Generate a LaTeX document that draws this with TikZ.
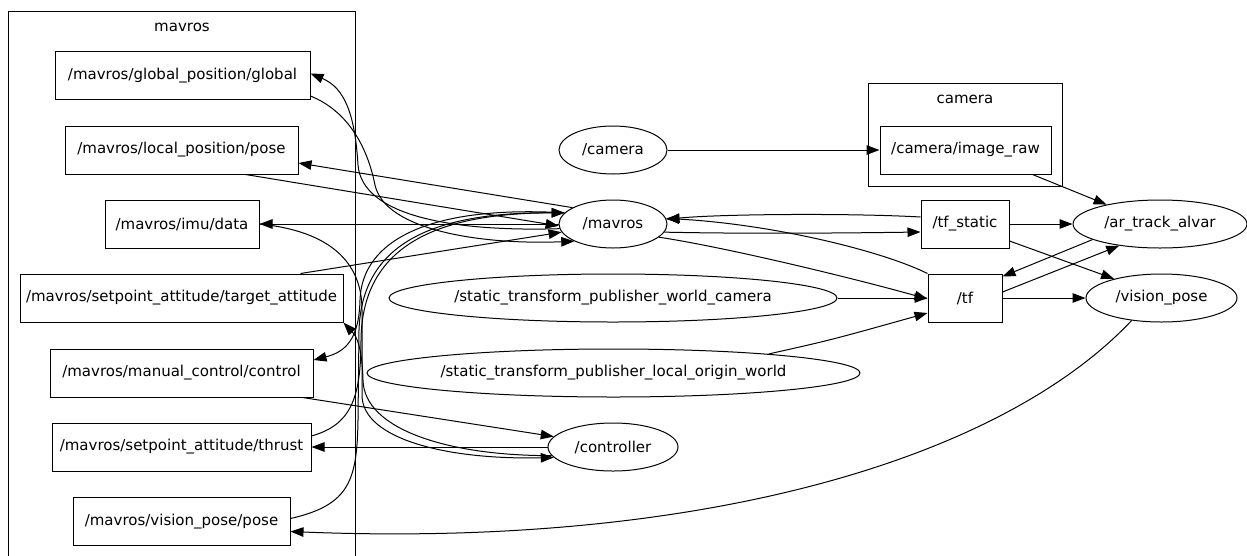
\documentclass[tikz,border=0pt]{standalone}
\usepackage{fontspec}
\setmainfont{DejaVu Sans}
\usetikzlibrary{arrows.meta,shapes.geometric}
% label of fixed size, so the ellipse keeps the width we give it
\newcommand{\nlbl}[1]{\makebox[0pt]{#1}}
\tikzset{
  topic/.style={rectangle, draw=black, line width=1pt, minimum height=48pt, inner sep=0pt,
                font=\fontsize{15}{18}\selectfont},
  rosnode/.style={ellipse, draw=black, line width=1pt, minimum height=48pt, inner sep=0pt,
                  font=\fontsize{15}{18}\selectfont},
  grp/.style={rectangle, draw=black, line width=1pt, inner sep=0pt, anchor=north west},
  grplbl/.style={font=\fontsize{15}{18}\selectfont},
  flow/.style={-{Triangle[length=13pt,width=9.5pt]}, draw=black, line width=1pt},
}

\begin{document}
\begin{tikzpicture}[x=1pt, y=-1pt]
\useasboundingbox (0,0) rectangle (1247,555);

% mavros namespace
\node[grp, minimum width=347pt, minimum height=560pt] (mavrosgrp) at (8,11) {};
\node[grplbl] (mavroslbl) at (182,27) {mavros};
\node[topic, minimum width=255pt] (glob) at (182.5,75.5) {/mavros/global\_position/global};
\node[topic, minimum width=233pt] (locpose) at (181.5,150) {/mavros/local\_position/pose};
\node[topic, minimum width=154pt] (imu) at (182,224) {/mavros/imu/data};
\node[topic, minimum width=323pt] (attitude) at (181.5,298) {/mavros/setpoint\_attitude/target\_attitude};
\node[topic, minimum width=263pt] (manual) at (181.5,373) {/mavros/manual\_control/control};
\node[topic, minimum width=259pt] (thrust) at (181.5,447) {/mavros/setpoint\_attitude/thrust};
\node[topic, minimum width=217pt] (vpose) at (181.5,521.5) {/mavros/vision\_pose/pose};

% camera namespace
\node[grp, minimum width=194pt, minimum height=103pt] (cameragrp) at (868,83) {};
\node[grplbl] (cameralbl) at (965,99) {camera};
\node[topic, minimum width=171pt] (imgraw) at (965.5,150) {/camera/image\_raw};

% tf topics
\node[topic, minimum width=88pt] (tfstatic) at (965,224) {/tf\_static};
\node[topic, minimum width=74pt] (tf) at (965,298) {/tf};

% ros nodes
\node[rosnode, minimum width=108pt] (camera) at (613,150) {\nlbl{/camera}};
\node[rosnode, minimum width=108pt] (mavros) at (613,224) {\nlbl{/mavros}};
\node[rosnode, minimum width=448pt] (worldcam) at (613,298) {\nlbl{/static\_transform\_publisher\_world\_camera}};
\node[rosnode, minimum width=493pt] (localorigin) at (613.5,373) {\nlbl{/static\_transform\_publisher\_local\_origin\_world}};
\node[rosnode, minimum width=130pt] (controller) at (613,447) {\nlbl{/controller}};
\node[rosnode, minimum width=174pt] (artrack) at (1160,224) {\nlbl{/ar\_track\_alvar}};
\node[rosnode, minimum width=151pt] (vispose) at (1161.5,298) {\nlbl{/vision\_pose}};

% camera and tracker
\draw[flow] (camera.east) -- (imgraw.west);
\draw[flow] ([xshift=-19pt]imgraw.south east) -- (artrack.160);
\draw[flow] (tfstatic.east) -- (artrack.west);
\draw[flow] ([yshift=-17pt]tfstatic.east) -- (vispose.158);
\draw[flow] (artrack.193) -- ([yshift=-3pt]tf.north east);
\draw[flow] ([yshift=6pt]tf.east) -- (artrack.208);
\draw[flow] (tf.east) -- (vispose.west);
\draw[flow] (vispose.217) .. controls (1000,460) and (700,548) .. ([yshift=-10pt]vpose.east);

% transforms
\draw[flow] (worldcam.east) -- (tf.west);
\draw[flow] (localorigin.7) .. controls (831,340) .. ([yshift=-15pt]tf.west);
\draw[flow] ([yshift=7pt]tfstatic.west) .. controls (850,213) and (720,214) .. (mavros.5);
\draw[flow] (mavros.351) .. controls (750,234) and (850,233) .. ([yshift=-8pt]tfstatic.west);
\draw[flow] (tf.north west) .. controls (880,250) and (770,224) .. (mavros.6);
\draw[flow] (mavros.344) .. controls (730,248) and (860,280) .. ([yshift=-1pt]tf.west);

% mavros topics, straight
\draw[flow] (mavros.158) -- ([yshift=-13pt]locpose.east);
\draw[flow] ([xshift=-53pt]locpose.south east) -- (mavros.182);
\draw[flow] (mavros.180) -- (imu.east);
\draw[flow] ([xshift=-43pt]attitude.north east) -- (mavros.189);
\draw[flow] ([xshift=-11pt]manual.south east) -- (controller.170);
\draw[flow] (controller.180) -- (thrust.east);

% mavros topics, through the bundle
\draw[flow] (mavros.185) .. controls (450,232) and (362,215) .. (358,165)
  .. controls (355,115) and (345,88) .. ([yshift=2pt]glob.east);
\draw[flow] ([yshift=4pt]glob.south east) .. controls (350,112) and (368,150) .. (375,185)
  .. controls (385,230) and (480,245) .. (mavros.204);
\draw[flow] (mavros.167) .. controls (430,205) and (362,240) .. (360,300)
  .. controls (359,340) and (345,352) .. ([yshift=13pt]manual.east);
\draw[flow] ([yshift=11pt]thrust.east) .. controls (350,425) and (361,400) .. (361,340)
  .. controls (362,250) and (430,213) .. (mavros.167);
\draw[flow] ([yshift=3pt]vpose.east) .. controls (350,505) and (357,480) .. (358,420)
  -- (359,330) .. controls (362,245) and (430,212) .. (mavros.167);
\draw[flow] (imu.east) .. controls (320,230) and (362,255) .. (362,310)
  -- (362,395) .. controls (362,440) and (450,460) .. (controller.190);
\draw[flow] (controller.188) .. controls (450,456) and (364,430) .. (363,380)
  .. controls (362,345) and (356,336) .. (attitude.south east);
\end{tikzpicture}
\end{document}
